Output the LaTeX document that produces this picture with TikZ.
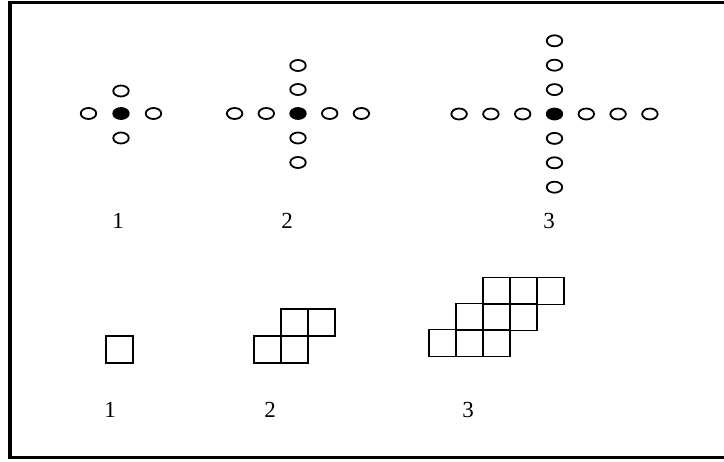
\documentclass[tikz,border=0pt]{standalone}
\usepackage{fontspec}
\setmainfont{Liberation Serif}
\usetikzlibrary{shapes.geometric}
\begin{document}
\begin{tikzpicture}[x=1pt,y=-1pt,
  dotopen/.style={ellipse,draw,line width=1.8pt,minimum width=15.5pt,minimum height=11pt,inner sep=0pt},
  dotfull/.style={dotopen,fill=black},
  cell/.style={rectangle,draw,line width=1.8pt,minimum size=27pt,inner sep=0pt},
  num/.style={font=\fontsize{23}{26}\selectfont,inner sep=0pt}]
\clip (0,0) rectangle (724,462);
% frame
\draw[line width=3.5pt] (740,2.5) -- (10,2.5) -- (10,457.5) -- (740,457.5);
% pattern 1 (dots)
\node[dotfull] (a0) at (121,113.5) {};
\node[dotopen] (al1) at (88.5,113.5) {};
\node[dotopen] (ar1) at (153.5,113.5) {};
\node[dotopen] (au1) at (121,91) {};
\node[dotopen] (ad1) at (121,138) {};
% pattern 2
\node[dotfull] (b0) at (298,113.5) {};
\foreach \i in {1,2}{
  \node[dotopen] (bl\i) at (298-31.7*\i,113.5) {};
  \node[dotopen] (br\i) at (298+31.7*\i,113.5) {};
  \node[dotopen] (bu\i) at (298,113.5-24*\i) {};
  \node[dotopen] (bd\i) at (298,113.5+24.5*\i) {};
}
% pattern 3
\node[dotfull] (c0) at (554.5,114) {};
\foreach \i in {1,2,3}{
  \node[dotopen] (cl\i) at (554.5-31.8*\i,114) {};
  \node[dotopen] (cr\i) at (554.5+31.8*\i,114) {};
  \node[dotopen] (cu\i) at (554.5,114-24.4*\i) {};
  \node[dotopen] (cd\i) at (554.5,114+24.4*\i) {};
}
\node[num] (n1) at (118,221) {1};
\node[num] (n2) at (287,221) {2};
\node[num] (n3) at (549,221) {3};
% squares 1
\node[cell] (s1) at (119.5,349.3) {};
% squares 2
\node[cell] (t1) at (267.5,349.3) {};
\node[cell] (t2) at (294.5,349.3) {};
\node[cell] (t3) at (294.5,322.5) {};
\node[cell] (t4) at (321.5,322.5) {};
% squares 3
\node[cell] (u1) at (442.5,343) {};
\node[cell] (u2) at (469.5,343) {};
\node[cell] (u3) at (496.5,343) {};
\node[cell] (u4) at (469.5,317) {};
\node[cell] (u5) at (496.5,317) {};
\node[cell] (u6) at (523.5,317) {};
\node[cell] (u7) at (496.5,291) {};
\node[cell] (u8) at (523.5,291) {};
\node[cell] (u9) at (550.5,291) {};
\node[num] (m1) at (110,410) {1};
\node[num] (m2) at (270,410) {2};
\node[num] (m3) at (468,410) {3};
\end{tikzpicture}
\end{document}
